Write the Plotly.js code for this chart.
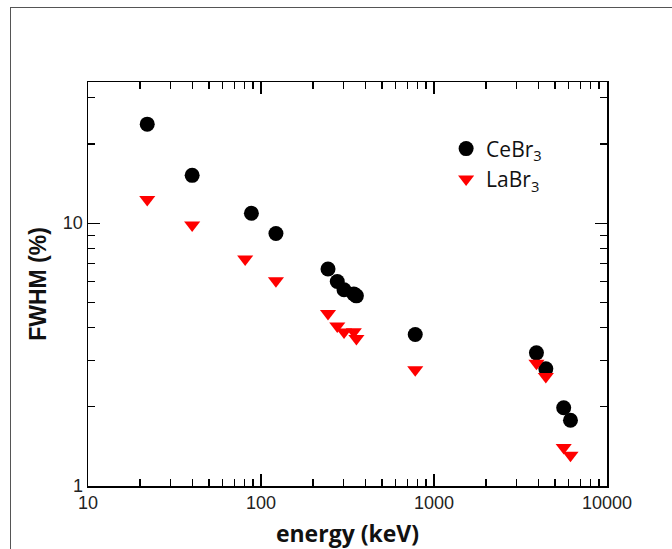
<!DOCTYPE html>
<html>
<head>
<meta charset="utf-8">
<script src="https://cdn.plot.ly/plotly-3.0.1.min.js"></script>
<style>
  html, body { margin: 0; padding: 0; overflow: hidden; background: #fff; }
  #frame { position: absolute; left: 10px; top: 7px; width: 700px; height: 600px; border: 1px solid #555; box-sizing: border-box; }
  #chart { position: absolute; left: 0; top: 0; width: 672px; height: 549px; }
</style>
</head>
<body>
<div id="frame"></div>
<div id="chart"></div>
<script>
// Data
const seriesNames = ['CeBr<sub>3</sub>', 'LaBr<sub>3</sub>'];
const energyCe = [22, 40, 88, 122, 244, 276, 302, 344, 356, 779, 3910, 4430, 5620, 6150];
const fwhmCe   = [23.8, 15.2, 10.9, 9.13, 6.69, 6.0, 5.58, 5.38, 5.29, 3.77, 3.21, 2.79, 1.985, 1.78];
const energyLa = [22, 40, 81, 122, 244, 276, 302, 344, 356, 779, 3910, 4430, 5620, 6150];
const fwhmLa   = [12.3, 9.85, 7.31, 6.04, 4.53, 4.06, 3.85, 3.86, 3.64, 2.77, 2.93, 2.61, 1.40, 1.31];
const xTickVals = [10, 100, 1000, 10000];
const xTickText = ['10', '100', '1000', '10000'];
const yTickVals = [1, 10];
const yTickText = ['1', '10'];

const traces = [
  {
    x: energyCe, y: fwhmCe, name: seriesNames[0], type: 'scatter', mode: 'markers',
    marker: { symbol: 'circle', size: 15, color: '#000000' }
  },
  {
    x: energyLa, y: fwhmLa, name: seriesNames[1], type: 'scatter', mode: 'markers',
    marker: { symbol: 'triangle-down', size: 14, color: '#ff0000' }
  }
];

const tickFont = { family: 'Liberation Sans, Arial, sans-serif', size: 18, color: '#222' };

const layout = {
  width: 672, height: 549,
  margin: { l: 88, r: 65, t: 82, b: 63 },
  paper_bgcolor: 'rgba(0,0,0,0)',
  plot_bgcolor: '#ffffff',
  showlegend: true,
  legend: {
    x: 0.69, y: 0.885, xanchor: 'left', yanchor: 'top',
    bgcolor: 'rgba(0,0,0,0)',
    font: { family: 'Open Sans, sans-serif', size: 21, color: '#111' }
  },
  xaxis: {
    type: 'log', range: [1, 4],
    tickvals: xTickVals, ticktext: xTickText,
    ticks: 'inside', ticklen: 12, tickwidth: 1.2, tickcolor: '#000',
    showline: true, linecolor: '#000', linewidth: 1.5, mirror: 'ticks',
    showgrid: false, zeroline: false,
    tickfont: tickFont,
    minor: { ticks: 'inside', ticklen: 7, tickwidth: 1.2, tickcolor: '#000', dtick: 'D1', showgrid: false },
    title: { text: 'energy (keV)', font: { family: 'Open Sans, sans-serif', size: 23, color: '#111', weight: 'bold' }, standoff: 14 }
  },
  yaxis: {
    type: 'log', range: [0, 1.537],
    tickvals: yTickVals, ticktext: yTickText,
    ticks: 'inside', ticklen: 12, tickwidth: 1.2, tickcolor: '#000',
    showline: true, linecolor: '#000', linewidth: 1.5, mirror: 'ticks',
    showgrid: false, zeroline: false,
    tickfont: tickFont,
    minor: { ticks: 'inside', ticklen: 7, tickwidth: 1.2, tickcolor: '#000', dtick: 'D1', showgrid: false },
    title: { text: 'FWHM (%)', font: { family: 'Liberation Sans, Arial, sans-serif', size: 23, color: '#111', weight: 'bold' }, standoff: 10 }
  }
};

Plotly.newPlot('chart', traces, layout, { displayModeBar: false, staticPlot: true });
</script>
</body>
</html>
